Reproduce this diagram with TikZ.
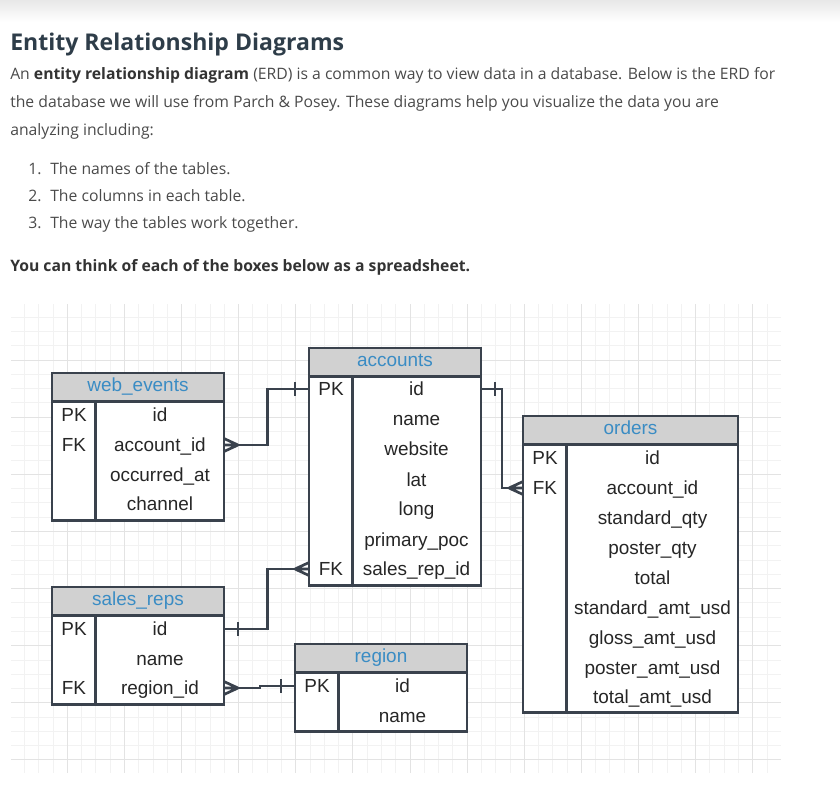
\documentclass[tikz,border=0pt]{standalone}
\usepackage{fontspec}
\setmainfont{Open Sans}
\newfontfamily\erdfont{Liberation Sans}
\usetikzlibrary{positioning}

\definecolor{boxline}{HTML}{3A424D}
\definecolor{headfill}{HTML}{D1D1D1}
\definecolor{headtext}{HTML}{3A8CC4}
\definecolor{gridminor}{HTML}{F2F2F2}
\definecolor{gridmajor}{HTML}{E3E3E3}
\definecolor{titlecol}{HTML}{2E3D49}
\definecolor{bodycol}{HTML}{4A4A4A}

\tikzstyle{titletext} = [anchor=base west, inner sep=0pt, text=titlecol, font=\bfseries\fontsize{17.3}{21}\selectfont]
\tikzstyle{bodytext} = [anchor=base west, inner sep=0pt, text=bodycol, font=\fontsize{11.8}{14}\selectfont]
\tikzstyle{tabhead} = [draw=boxline, line width=2pt, fill=headfill, text=headtext, font=\erdfont\fontsize{14.2}{17}\selectfont, text height=10.2pt, text depth=3.8pt, minimum height=21.5pt, inner sep=0pt, outer sep=0pt, anchor=north west]
\tikzstyle{tabbody} = [draw=boxline, line width=2pt, fill=white, inner sep=0pt, outer sep=0pt, anchor=north]
\tikzstyle{field} = [font=\erdfont\fontsize{14.2}{17}\selectfont, text=black!85, text height=10.2pt, text depth=0pt, inner sep=0pt]
\tikzstyle{divider} = [draw=boxline, line width=2pt]
\tikzstyle{conn} = [draw=boxline, line width=2pt]

\tikzset{
    crowfoot/.pic={
        \draw[conn] (0,-6.5) -- (14,0) (0,6.5) -- (14,0) (0,0) -- (14,0);
    },
    onebar/.pic={
        \draw[conn] (14,-7) -- (14,7) (0,0) -- (14,0);
    }
}

\newcommand{\bold}[1]{{\bfseries\color{black!80}#1}}

\begin{document}
\begin{tikzpicture}[x=0.75pt, y=-0.75pt]
\useasboundingbox (0,0) rectangle (840,786);
\shade[top color=black!9, bottom color=white] (0,0) rectangle (840,22);

%text above the diagram
\node[titletext] (title) at (10,50) {Entity Relationship Diagrams};
\node[bodytext] (intro1) at (10,79) {An \bold{entity relationship diagram} (ERD) is a common way to view data in a database. Below is the ERD for};
\node[bodytext] (intro2) at (10,107) {the database we will use from Parch \& Posey. These diagrams help you visualize the data you are};
\node[bodytext] (intro3) at (10,135) {analyzing including:};
\node[bodytext] (item1) at (28,174) {\makebox[16.5pt][l]{1.}The names of the tables.};
\node[bodytext] (item2) at (28,201) {\makebox[16.5pt][l]{2.}The columns in each table.};
\node[bodytext] (item3) at (28,228) {\makebox[16.5pt][l]{3.}The way the tables work together.};
\node[bodytext] (boxes) at (10,271) {\bold{You can think of each of the boxes below as a spreadsheet.}};

%grid
\foreach \i in {0,...,52}
    \draw[gridminor, line width=0.75pt] ({24.5+14.28*\i},304) -- ({24.5+14.28*\i},773);
\foreach \j in {0,...,31}
    \draw[gridminor, line width=0.75pt] (11,{317.3+14.28*\j}) -- (781,{317.3+14.28*\j});
\foreach \i in {3,7,...,51}
    \draw[gridmajor, line width=0.75pt] ({24.5+14.28*\i},304) -- ({24.5+14.28*\i},773);
\foreach \j in {3,7,...,31}
    \draw[gridmajor, line width=0.75pt] (11,{317.3+14.28*\j}) -- (781,{317.3+14.28*\j});

%web_events
\node[tabhead, minimum width=129pt] (web_head) at (52,373) {web\_events};
\node[tabbody, minimum width=129pt, minimum height=89pt] (web_body) at (web_head.south) {};
\draw[divider] ([xshift=32.6pt]web_body.north west) -- ([xshift=32.6pt]web_body.south west);
\node[field] (web_pk) at (74,415) {PK};
\node[field] (web_fk) at (74,445) {FK};
\node[field] (web_id) at (160,415) {id};
\node[field] (web_acc) at (160,445) {account\_id};
\node[field] (web_occ) at (160,475) {occurred\_at};
\node[field] (web_chan) at (160,504) {channel};

%accounts
\node[tabhead, minimum width=129pt] (acc_head) at (309,348) {accounts};
\node[tabbody, minimum width=129pt, minimum height=156.5pt] (acc_body) at (acc_head.south) {};
\draw[divider] ([xshift=32.6pt]acc_body.north west) -- ([xshift=32.6pt]acc_body.south west);
\node[field] (acc_pk) at (331,389) {PK};
\node[field] (acc_fk) at (331,569) {FK};
\node[field] (acc_id) at (416.5,389) {id};
\node[field] (acc_name) at (416.5,419) {name};
\node[field] (acc_web) at (416.5,449) {website};
\node[field] (acc_lat) at (416.5,480) {lat};
\node[field] (acc_long) at (416.5,509) {long};
\node[field] (acc_poc) at (416.5,540) {primary\_poc};
\node[field] (acc_rep) at (416.5,569) {sales\_rep\_id};

%orders
\node[tabhead, minimum width=161.25pt] (ord_head) at (523,416) {orders};
\node[tabbody, minimum width=161.25pt, minimum height=200.75pt] (ord_body) at (ord_head.south) {};
\draw[divider] ([xshift=32.6pt]ord_body.north west) -- ([xshift=32.6pt]ord_body.south west);
\node[field] (ord_pk) at (545,458) {PK};
\node[field] (ord_fk) at (545,488) {FK};
\node[field] (ord_id) at (652.5,458) {id};
\node[field] (ord_acc) at (652.5,488) {account\_id};
\node[field] (ord_stq) at (652.5,518) {standard\_qty};
\node[field] (ord_poq) at (652.5,548) {poster\_qty};
\node[field] (ord_tot) at (652.5,578) {total};
\node[field] (ord_sta) at (652.5,608) {standard\_amt\_usd};
\node[field] (ord_gla) at (652.5,638) {gloss\_amt\_usd};
\node[field] (ord_poa) at (652.5,668) {poster\_amt\_usd};
\node[field] (ord_tota) at (652.5,697) {total\_amt\_usd};

%sales_reps
\node[tabhead, minimum width=129pt] (rep_head) at (52,587) {sales\_reps};
\node[tabbody, minimum width=129pt, minimum height=66.5pt] (rep_body) at (rep_head.south) {};
\draw[divider] ([xshift=32.6pt]rep_body.north west) -- ([xshift=32.6pt]rep_body.south west);
\node[field] (rep_pk) at (74,629) {PK};
\node[field] (rep_fk) at (74,688) {FK};
\node[field] (rep_id) at (160,629) {id};
\node[field] (rep_name) at (160,659) {name};
\node[field] (rep_reg) at (160,688) {region\_id};

%region
\node[tabhead, minimum width=129pt] (reg_head) at (295,644) {region};
\node[tabbody, minimum width=129pt, minimum height=44pt] (reg_body) at (reg_head.south) {};
\draw[divider] ([xshift=32.6pt]reg_body.north west) -- ([xshift=32.6pt]reg_body.south west);
\node[field] (reg_pk) at (317,686) {PK};
\node[field] (reg_id) at (402.5,686) {id};
\node[field] (reg_name) at (402.5,716) {name};

%connector ends
\coordinate (web_acc_e) at (web_body.east |- web_acc);
\coordinate (acc_id_w) at (acc_body.west |- acc_id);
\coordinate (acc_id_e) at (acc_body.east |- acc_id);
\coordinate (ord_acc_w) at (ord_body.west |- ord_acc);
\coordinate (acc_rep_w) at (acc_body.west |- acc_rep);
\coordinate (rep_id_e) at (rep_body.east |- rep_id);
\coordinate (rep_reg_e) at (rep_body.east |- rep_reg);
\coordinate (reg_id_w) at (reg_body.west |- reg_id);

%web_events -> accounts
\draw[conn] (web_acc_e) -- ++(43.5,0) |- (acc_id_w);
\pic at (web_acc_e) {crowfoot};
\pic[rotate=180] at (acc_id_w) {onebar};
%accounts -> orders
\draw[conn] (acc_id_e) -- ++(21,0) |- (ord_acc_w);
\pic at (acc_id_e) {onebar};
\pic[rotate=180] at (ord_acc_w) {crowfoot};
%sales_reps -> accounts
\draw[conn] (rep_id_e) -- ++(43.5,0) |- (acc_rep_w);
\pic at (rep_id_e) {onebar};
\pic[rotate=180] at (acc_rep_w) {crowfoot};
%sales_reps -> region
\draw[conn] (rep_reg_e) -- ++(36,0) |- (reg_id_w);
\pic at (rep_reg_e) {crowfoot};
\pic[rotate=180] at (reg_id_w) {onebar};
\end{tikzpicture}
\end{document}
